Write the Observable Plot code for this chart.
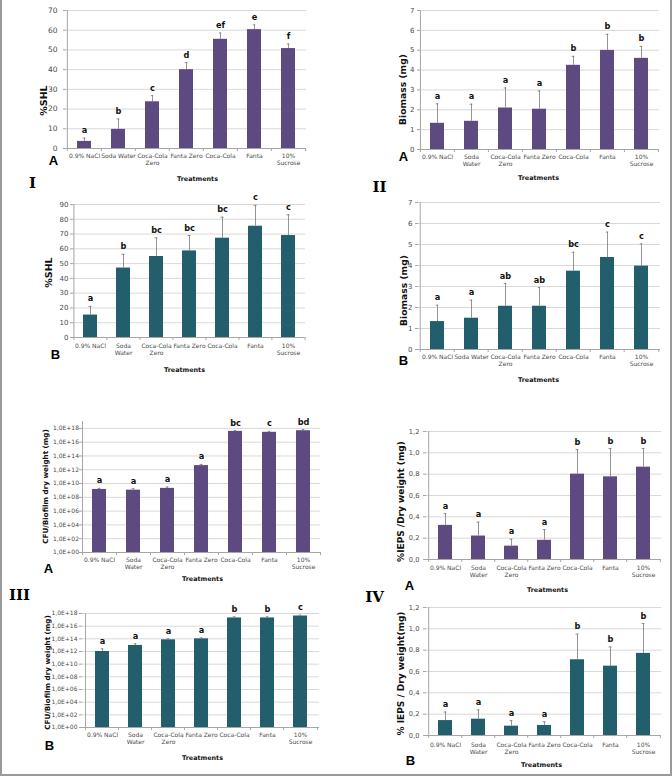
<!DOCTYPE html>
<html><head><meta charset="utf-8">
<script src="https://cdn.jsdelivr.net/npm/d3@7"></script>
<script src="https://cdn.jsdelivr.net/npm/@observablehq/plot@0.6"></script>
<style>
body{margin:0;background:#fff;}
#fig{position:relative;width:672px;height:776px;overflow:hidden;background:#fff;}
.panel{position:absolute;}
#border{position:absolute;left:0;top:0;width:672px;height:776px;box-sizing:border-box;border-left:2px solid #9a9a9a;border-right:2px solid #9a9a9a;border-bottom:2px solid #9a9a9a;pointer-events:none;}
</style></head><body><div id="fig"><div id="border"></div></div>
<script>
// ---- categories and tick labels ----
const treatments = ["0.9% NaCl","Soda Water","Coca-Cola Zero","Fanta Zero","Coca-Cola","Fanta","10% Sucrose"];
const tickLabelsWrapped = ["0.9% NaCl","Soda\nWater","Coca-Cola\nZero","Fanta Zero","Coca-Cola","Fanta","10%\nSucrose"];
const tickLabelsSodaOneLine = ["0.9% NaCl","Soda Water","Coca-Cola\nZero","Fanta Zero","Coca-Cola","Fanta","10%\nSucrose"];
const ticksSHL_A = [0,10,20,30,40,50,60,70];
const ticksSHL_B = [0,10,20,30,40,50,60,70,80,90];
const ticksBiomass = [0,1,2,3,4,5,6,7];
const ticksCFU = [1,1e2,1e4,1e6,1e8,1e10,1e12,1e14,1e16,1e18];
const ticksIEPS = [0,0.2,0.4,0.6,0.8,1.0,1.2];

// ---- I: %SHL ----
const shlA = [3.6,9.7,23.7,40,55.4,60.3,50.7];
const shlAErr = [1.7,5.3,3.1,3.5,3.2,2.4,2.3];
const shlALetters = ["a","b","c","d","ef","e","f"];
const shlB = [15.2,47,54.8,58.6,67.2,75.3,69];
const shlBErr = [5.8,9.3,12.6,10.4,14.2,14.1,14];
const shlBLetters = ["a","b","bc","bc","bc","c","c"];

// ---- II: Biomass (mg) ----
const bioA = [1.32,1.42,2.09,2.03,4.24,4.99,4.59];
const bioAErr = [0.98,0.86,1.01,0.92,0.45,0.81,0.6];
const bioALetters = ["a","a","a","a","b","b","b"];
const bioB = [1.33,1.49,2.06,2.06,3.73,4.38,3.97];
const bioBErr = [0.78,0.86,1.08,0.89,0.9,1.21,1.06];
const bioBLetters = ["a","a","ab","ab","bc","c","c"];

// ---- III: CFU / biofilm dry weight ----
const cfuA = [1.4e9,1.1e9,2e9,4e12,3.7e17,2.7e17,4.6e17];
const cfuAErr = [0.6e9,0.7e9,1.2e9,2e12,1e17,1e17,2e17];
const cfuALetters = ["a","a","a","a","bc","c","bd"];
const cfuB = [1e12,9e12,7e13,1e14,2e17,2e17,4e17];
const cfuBErr = [1.6e12,8e12,3e13,4e13,1e17,1e17,1.5e17];
const cfuBLetters = ["a","a","a","a","b","b","c"];

// ---- IV: %IEPS / dry weight ----
const iepsA = [0.32,0.22,0.125,0.18,0.80,0.775,0.866];
const iepsAErr = [0.11,0.13,0.065,0.1,0.23,0.265,0.174];
const iepsALetters = ["a","a","a","a","b","b","b"];
const iepsB = [0.14,0.153,0.0875,0.094,0.71,0.65,0.77];
const iepsBErr = [0.08,0.087,0.0525,0.034,0.24,0.18,0.28];
const iepsBLetters = ["a","a","a","a","b","b","b"];

const purple = "#5d4a80";
const teal = "#235e6d";
const fmtLog = d => "1,0E+" + String(Math.round(Math.log10(d))).padStart(2,"0");
const fmtComma = d => d.toFixed(1).replace(".", ",");

const panels = [
  {left:0, top:0, height:190, ml:66, mr:30, mt:10, mb:42, vals:shlA, errs:shlAErr, letters:shlALetters, color:purple,
   domain:[0,70], ticks:ticksSHL_A, fmt:d=>d, ytp:6, yfs:7.5, labels:tickLabelsSodaOneLine, ylab:"%SHL", ylabAt:[43,100], ylabSize:9.5,
   xlabAt:[197,178], tag:"A", tagAt:[53,160], roman:"I", romanAt:[32,183], pad:4},
  {left:0, top:190, height:195, ml:73, mr:31, mt:14, mb:48, vals:shlB, errs:shlBErr, letters:shlBLetters, color:teal,
   domain:[0,90], ticks:ticksSHL_B, fmt:d=>d, ytp:2, yfs:7, labels:tickLabelsWrapped, ylab:"%SHL", ylabAt:[48,272], ylabSize:9.5,
   xlabAt:[184,369], tag:"B", tagAt:[55,354], pad:5},
  {left:336, top:0, height:190, ml:84, mr:13, mt:10, mb:41, vals:bioA, errs:bioAErr, letters:bioALetters, color:purple,
   domain:[0,7], ticks:ticksBiomass, fmt:d=>d, ytp:3, yfs:7, labels:tickLabelsWrapped, ylab:"Biomass (mg)", ylabAt:[403,89], ylabSize:9.2,
   xlabAt:[538,177], tag:"A", tagAt:[403,156], roman:"II", romanAt:[379,187], pad:4},
  {left:336, top:190, height:195, ml:82, mr:12, mt:12, mb:36, vals:bioB, errs:bioBErr, letters:bioBLetters, color:teal,
   domain:[0,7], ticks:ticksBiomass, fmt:d=>d, ytp:3, yfs:7, labels:tickLabelsSodaOneLine, ylab:"Biomass (mg)", ylabAt:[404,290], ylabSize:9.2,
   xlabAt:[538,379], tag:"B", tagAt:[403,360], pad:4},
  {left:0, top:390, height:195, ml:82, mr:16, mt:31, mb:33, vals:cfuA, errs:cfuAErr, letters:cfuALetters, color:purple, log:true,
   domain:[1,1e19], ticks:ticksCFU, fmt:fmtLog, ytp:0.5, yfs:6, labels:tickLabelsWrapped, ylab:"CFU/Biofilm dry weight (mg)", ylabAt:[45,486], ylabSize:7.2,
   xlabAt:[202,578], tag:"A", tagAt:[48,568], pad:4},
  {left:0, top:580, height:196, ml:82, mr:17, mt:33, mb:49, vals:cfuB, errs:cfuBErr, letters:cfuBLetters, color:teal, log:true,
   domain:[1,1e18], ticks:ticksCFU, fmt:fmtLog, ytp:2, yfs:6, labels:tickLabelsWrapped, ylab:"CFU/Biofilm dry weight (mg)", ylabAt:[47,672], ylabSize:7.2,
   xlabAt:[202,757], tag:"B", tagAt:[49,745], roman:"III", romanAt:[19,595], pad:4},
  {left:336, top:390, height:205, ml:90, mr:11, mt:41, mb:36, vals:iepsA, errs:iepsAErr, letters:iepsALetters, color:purple,
   domain:[0,1.2], ticks:ticksIEPS, fmt:fmtComma, ytp:4, yfs:6.7, labels:tickLabelsWrapped, ylab:"%IEPS /Dry weight (mg)", ylabAt:[401,501], ylabSize:9,
   xlabAt:[547,589], tag:"A", tagAt:[409,585], pad:5},
  {left:336, top:580, height:196, ml:90, mr:11, mt:27, mb:41, vals:iepsB, errs:iepsBErr, letters:iepsBLetters, color:teal,
   domain:[0,1.2], ticks:ticksIEPS, fmt:fmtComma, ytp:4, yfs:6.7, labels:tickLabelsWrapped, ylab:"% IEPS / Dry weight(mg)", ylabAt:[401,673], ylabSize:9,
   xlabAt:[541,764], tag:"B", tagAt:[410,760], roman:"IV", romanAt:[374,597], pad:6}
];

const fig = document.getElementById("fig");
const axisGray = "#a6a6a6";
const padInner = 0.58;

for (const p of panels) {
  const width = 336;
  const data = treatments.map((t,i) => ({t, v:p.vals[i], e:p.errs[i], l:p.letters[i]}));
  const step = (width - p.ml - p.mr) / treatments.length;
  const bw = step * (1 - padInner);
  const fx = p.left + p.ml, fy = p.top + p.mt;
  const at = (pt) => ({frameAnchor:"top-left", dx: pt[0]-fx, dy: pt[1]-fy});
  const base = p.log ? p.domain[0] : 0;
  const marks = [
    Plot.gridY(p.ticks, {stroke:"#d9d9d9", strokeOpacity:1}),
    p.log ? Plot.barY(data, {x:"t", y1:base, y2:"v", fill:p.color})
          : Plot.barY(data, {x:"t", y:"v", fill:p.color}),
    Plot.ruleX(data, {x:"t", y1:"v", y2:d=>d.v+d.e, stroke:"#7a7a7a", strokeWidth:0.8}),
    Plot.tickY(data, {x:"t", y:d=>d.v+d.e, stroke:"#7a7a7a", strokeWidth:0.8, insetLeft:bw/2-1.5, insetRight:bw/2-1.5}),
    Plot.text(data, {x:"t", y:d=>d.v+d.e, text:"l", dy:-5, lineAnchor:"bottom", fontWeight:"bold", fontSize:8.2, fill:"#111"}),
    Plot.ruleY([base], {stroke:axisGray}),
    Plot.ruleX([treatments[0]], {x:d=>d, dx:-step/2, stroke:axisGray}),
    Plot.ruleX(treatments, {x:d=>d, y1:base, y2:base, dx:-step/2, insetBottom:-3, stroke:axisGray}),
    Plot.ruleX([treatments[treatments.length-1]], {x:d=>d, y1:base, y2:base, dx:step/2, insetBottom:-3, stroke:axisGray}),
    Plot.axisY(p.ticks, {tickSize:3, tickPadding:p.ytp, stroke:axisGray, fill:"#4a4a4a", fontSize:p.yfs, tickFormat:p.fmt, label:null}),
    Plot.axisX({tickSize:0, tickPadding:p.pad, fill:"#4a4a4a", fontSize:6, lineHeight:1.25,
                tickFormat:d => p.labels[treatments.indexOf(d)], label:null}),
    Plot.text([p.ylab], {...at(p.ylabAt), text:d=>d, rotate:-90, textAnchor:"middle", lineAnchor:"middle",
                fontWeight:"bold", fontSize:p.ylabSize, fill:"#111"}),
    Plot.text(["Treatments"], {...at(p.xlabAt), text:d=>d, textAnchor:"middle", lineAnchor:"middle",
                fontWeight:"bold", fontSize:6.4, fill:"#111"}),
    Plot.text([p.tag], {...at(p.tagAt), text:d=>d, textAnchor:"middle", lineAnchor:"middle",
                fontWeight:"bold", fontSize:13, fontFamily:"Liberation Sans, Arial, sans-serif", fill:"#000"})
  ];
  if (p.roman) {
    marks.push(Plot.text([p.roman], {...at(p.romanAt), text:d=>d, textAnchor:"middle", lineAnchor:"middle",
                fontWeight:"bold", fontSize:15, fontFamily:"DejaVu Serif, serif", fill:"#000"}));
  }
  const chart = Plot.plot({
    width, height:p.height,
    marginLeft:p.ml, marginRight:p.mr, marginTop:p.mt, marginBottom:p.mb,
    style:{fontFamily:"DejaVu Sans, Verdana, sans-serif", background:"transparent", overflow:"visible"},
    x:{type:"band", domain:treatments, paddingInner:padInner, paddingOuter:padInner/2, label:null},
    y: p.log ? {type:"log", domain:p.domain, label:null} : {domain:p.domain, label:null},
    marks
  });
  chart.classList.add("panel");
  chart.style.left = p.left + "px";
  chart.style.top = p.top + "px";
  fig.insertBefore(chart, document.getElementById("border"));
}
</script></body></html>
